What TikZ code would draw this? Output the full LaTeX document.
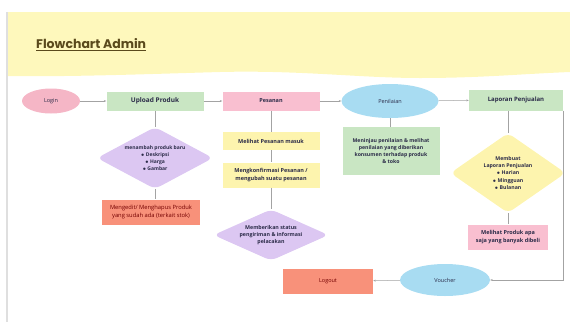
\documentclass[tikz,border=0pt]{standalone}
\usepackage{fontspec}
\setmainfont{Open Sans}
\newfontfamily\titlefont{Poppins}
\usetikzlibrary{shapes.geometric,arrows.meta}
\definecolor{headyellow}{HTML}{FEF8BC}
\definecolor{loginpink}{HTML}{F5B6C6}
\definecolor{boxgreen}{HTML}{C9E6C3}
\definecolor{boxpink}{HTML}{F9BFD0}
\definecolor{ovalblue}{HTML}{A8DCF2}
\definecolor{diapurple}{HTML}{DCC7F2}
\definecolor{boxyellow}{HTML}{FDF4AE}
\definecolor{boxsalmon}{HTML}{F8917A}
\definecolor{linegray}{HTML}{A3A3A3}
\definecolor{textnavy}{HTML}{2B2B48}
\definecolor{titlebrown}{HTML}{5A4A1C}
\begin{document}
\begin{tikzpicture}[x=1pt, y=-1pt,
    every node/.style={font=\fontsize{5.5}{7.5}\selectfont, text=textnavy, align=center, inner sep=1pt},
    oval/.style={ellipse, fill=#1, minimum width=58, minimum height=25},
    stepbox/.style={rectangle, fill=#1, minimum width=97, minimum height=19},
    choice/.style={diamond, fill=#1, aspect=2, inner sep=0pt, rounded corners=6pt},
    conn/.style={draw=linegray, line width=0.5pt, -{Stealth[length=2.5pt,width=2pt]}},
    plain/.style={draw=linegray, line width=0.5pt}]
      \useasboundingbox (0,0) rectangle (570,322);
      % Header band with wavy edge
      \fill[headyellow] (7,12) -- (570,12) -- (570,72)
        .. controls (520,74) and (480,78) .. (420,78)
        .. controls (360,78) and (300,70) .. (220,72)
        .. controls (150,74) and (70,77) .. (7,76) -- cycle;
      \draw[gray!25, line width=1.2pt] (7,12) -- (7,322);
      \node[font=\titlefont\fontsize{12.5}{14}\selectfont\bfseries, text=titlebrown, anchor=west] (title) at (35,45) {\underline{Flowchart Admin}};
      % Top row
      \node[oval=loginpink] (login) at (51,101) {Login};
      \node[stepbox=boxgreen, font=\fontsize{6.5}{7.5}\selectfont\bfseries] (upload) at (155,101) {Upload Produk};
      \node[stepbox=boxpink, font=\fontsize{5.5}{7.5}\selectfont\bfseries] (pesanan) at (271,101) {Pesanan};
      \node[oval=ovalblue, minimum width=97, minimum height=34] (nilai) at (390,101) {Penilaian};
      \node[stepbox=boxgreen, minimum width=94, minimum height=21, font=\fontsize{6}{7.5}\selectfont\bfseries] (laporan) at (516,100) {Laporan Penjualan};
      \draw[conn] (login) -- (upload);
      \draw[conn] (upload) -- (pesanan);
      \draw[conn] (pesanan) -- (nilai);
      \draw[conn] (nilai) -- (laporan);
      % Produk column
      \node[choice=diapurple, minimum width=116, minimum height=62, font=\fontsize{5}{7}\selectfont\bfseries] (tambah) at (155,158)
        {menambah produk baru\\$\bullet$ Deskripsi\\$\bullet$ Harga\\$\bullet$ Gambar};
      \node[stepbox=boxsalmon, minimum width=98, minimum height=25, font=\fontsize{5.8}{7.5}\selectfont, text=red!45!black] (edit) at (151,212)
        {Mengedit/ Menghapus Produk\\yang sudah ada (terkait stok)};
      \draw[plain] (upload) -- (tambah);
      \draw[plain] (tambah) -- (tambah |- edit.north);
      % Pesanan column
      \node[stepbox=boxyellow, minimum height=18, font=\fontsize{5.5}{7.5}\selectfont\bfseries] (masuk) at (271,141) {Melihat Pesanan masuk};
      \node[stepbox=boxyellow, minimum height=25, font=\fontsize{5.5}{7.5}\selectfont\bfseries] (konfirm) at (271,175)
        {Mengkonfirmasi Pesanan /\\mengubah suatu pesanan};
      \node[choice=diapurple, minimum width=115, minimum height=50, font=\fontsize{5.3}{7.3}\selectfont\bfseries] (status) at (271,235)
        {Memberikan status\\pengiriman \& informasi\\pelacakan};
      \draw[plain] (pesanan) -- (masuk);
      \draw[plain] (masuk) -- (konfirm);
      \draw[plain] (konfirm) -- (status);
      % Penilaian column
      \node[stepbox=boxgreen, minimum height=48, font=\fontsize{5.2}{7.3}\selectfont\bfseries] (tinjau) at (391,151)
        {Meninjau penilaian \& melihat\\penilaian yang diberikan\\konsumen terhadap produk\\\& toko};
      \draw[plain] (nilai) -- (nilai |- tinjau.north);
      % Laporan column
      \node[choice=boxyellow, minimum width=102, minimum height=80, font=\fontsize{5.2}{7.3}\selectfont\bfseries] (buat) at (508,173)
        {Membuat\\Laporan Penjualan\\$\bullet$ Harian\\$\bullet$ Mingguan\\$\bullet$ Bulanan};
      \node[stepbox=boxpink, minimum width=80, minimum height=25, font=\fontsize{5.5}{7.5}\selectfont\bfseries] (terlaris) at (508,237)
        {Melihat Produk apa\\saja yang banyak dibeli};
      \draw[plain] (buat |- laporan.south) -- (buat);
      \draw[plain] (buat) -- (terlaris);
      % Bottom row
      \node[oval=ovalblue, minimum width=90, minimum height=32] (voucher) at (445,280) {Voucher};
      \node[stepbox=boxsalmon, minimum width=90, minimum height=25, text=red!45!black] (logout) at (328,281) {Logout};
      \draw[conn] (laporan.south east) |- (voucher.east);
      \draw[conn] (voucher) -- (logout);
    \end{tikzpicture}
\end{document}
